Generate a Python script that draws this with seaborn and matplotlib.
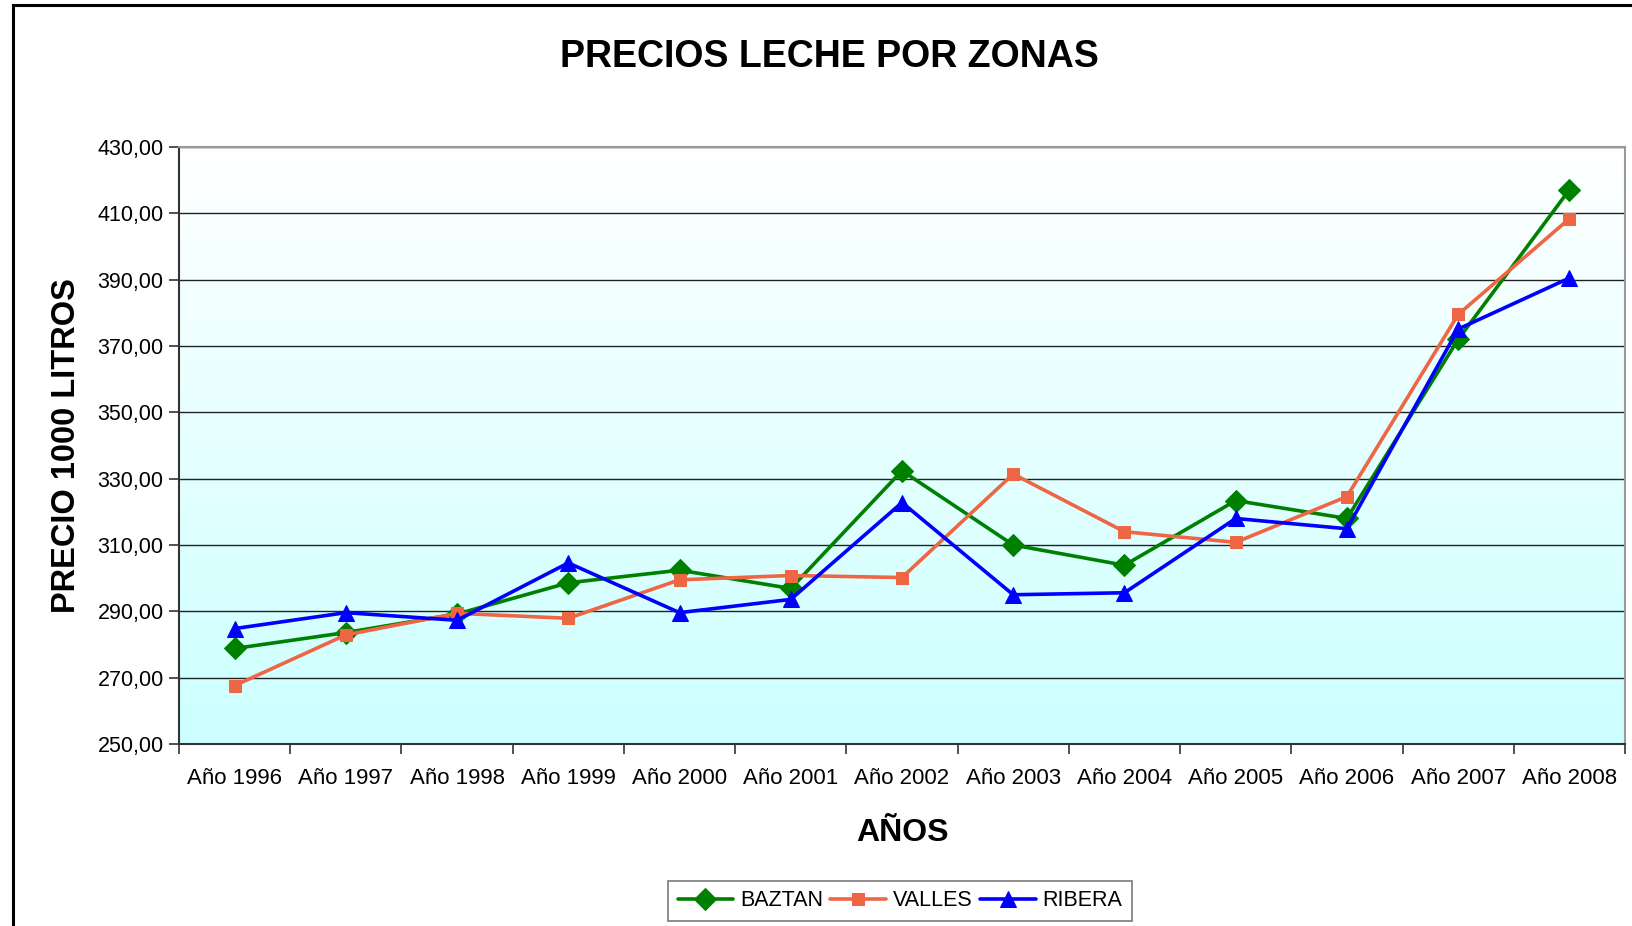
import numpy as np
import pandas as pd
import seaborn as sns
import matplotlib.pyplot as plt
from matplotlib.colors import LinearSegmentedColormap
from matplotlib.ticker import FuncFormatter, FixedLocator
from matplotlib.patches import Rectangle

# data
years = ['Año 1996', 'Año 1997', 'Año 1998', 'Año 1999', 'Año 2000', 'Año 2001', 'Año 2002',
         'Año 2003', 'Año 2004', 'Año 2005', 'Año 2006', 'Año 2007', 'Año 2008']
baztan = [278.8, 283.6, 289.2, 298.6, 302.4, 296.9, 332.4, 310.0, 303.9, 323.4, 318.0, 372.0, 417.1]
valles = [267.6, 282.9, 289.4, 287.9, 299.5, 300.8, 300.2, 331.4, 314.0, 310.8, 324.6, 379.5, 408.4]
ribera = [284.8, 289.6, 287.3, 304.6, 289.6, 293.6, 322.8, 295.0, 295.6, 318.0, 314.9, 375.1, 390.5]

sns.set_style('white')
plt.rcParams['font.family'] = ['Liberation Sans', 'DejaVu Sans']
plt.rcParams['text.color'] = 'black'
plt.rcParams['axes.labelcolor'] = 'black'
plt.rcParams['xtick.color'] = 'black'
plt.rcParams['ytick.color'] = 'black'

fig = plt.figure(figsize=(16.32, 9.26), dpi=100)
ax = fig.add_axes([179 / 1632, 1 - 744 / 926, (1625 - 179) / 1632, (744 - 147) / 926])

# gradient background white -> light cyan
grad = LinearSegmentedColormap.from_list('bg', ['#ccffff', '#ffffff'])
ax.imshow(np.linspace(0, 1, 256).reshape(-1, 1), aspect='auto', cmap=grad, origin='lower',
          extent=[-0.5, 12.5, 250, 430], zorder=0)

series = [
    ('BAZTAN', baztan, '#008000', 'D', 11),
    ('VALLES', valles, '#ee6644', 's', 9),
    ('RIBERA', ribera, '#0000ff', '^', 11),
]
for name, vals, col, mk, ms in series:
    df = pd.DataFrame({'year': years, 'precio': vals})
    sns.lineplot(data=df, x='year', y='precio', ax=ax, color=col, marker=mk, markersize=ms,
                 markeredgecolor=col, linewidth=2.6, label=name, sort=False, zorder=3)

ax.set_xlim(-0.5, 12.5)
ax.set_ylim(250, 430)
ax.set_yticks(np.arange(250, 431, 20))
ax.yaxis.set_major_formatter(FuncFormatter(lambda v, p: f'{v:.2f}'.replace('.', ',')))
ax.grid(axis='y', color='#222222', linewidth=1.0, zorder=1)
ax.grid(axis='x', visible=False)
ax.set_axisbelow(True)

# x tick marks sit between categories, labels centred
ax.xaxis.set_minor_locator(FixedLocator(np.arange(-0.5, 13, 1)))
ax.tick_params(axis='x', which='major', length=0, labelsize=16, pad=17)
ax.tick_params(axis='x', which='minor', length=7, width=1.2, color='#333333', direction='out')
ax.tick_params(axis='y', which='major', length=7, width=1.2, color='#333333', direction='out',
               labelsize=15.5, pad=4)
ax.tick_params(bottom=True, left=True, which='both')

for side in ['top', 'right']:
    ax.spines[side].set_color('#999999')
    ax.spines[side].set_linewidth(1.5)
for side in ['left', 'bottom']:
    ax.spines[side].set_color('#333333')
    ax.spines[side].set_linewidth(1.5)

ax.set_xlabel('AÑOS', fontsize=23, fontweight='bold', labelpad=21)
ax.set_ylabel('PRECIO 1000 LITROS', fontsize=23.5, fontweight='bold', labelpad=11)
fig.text(797 / 1568, 1 - 55 / 890, 'PRECIOS LECHE POR ZONAS', fontsize=27, fontweight='bold',
         ha='center', va='center')

leg = ax.legend(loc='center', bbox_to_anchor=(900 / 1632, 1 - 901 / 926), bbox_transform=fig.transFigure,
                ncol=3, fontsize=15.5, frameon=True, fancybox=False, handlelength=2.6,
                handletextpad=0.3, columnspacing=0.35, borderpad=0.45)
leg.get_frame().set_edgecolor('#666666')
leg.get_frame().set_linewidth(1.3)

# outer chart border
fig.patches.append(Rectangle((13 / 1632, -0.05), 1.2, 1 - 5 / 926 + 0.05, transform=fig.transFigure,
                             fill=False, edgecolor='black', linewidth=2.2))

fig.savefig('out.png', dpi=100)
